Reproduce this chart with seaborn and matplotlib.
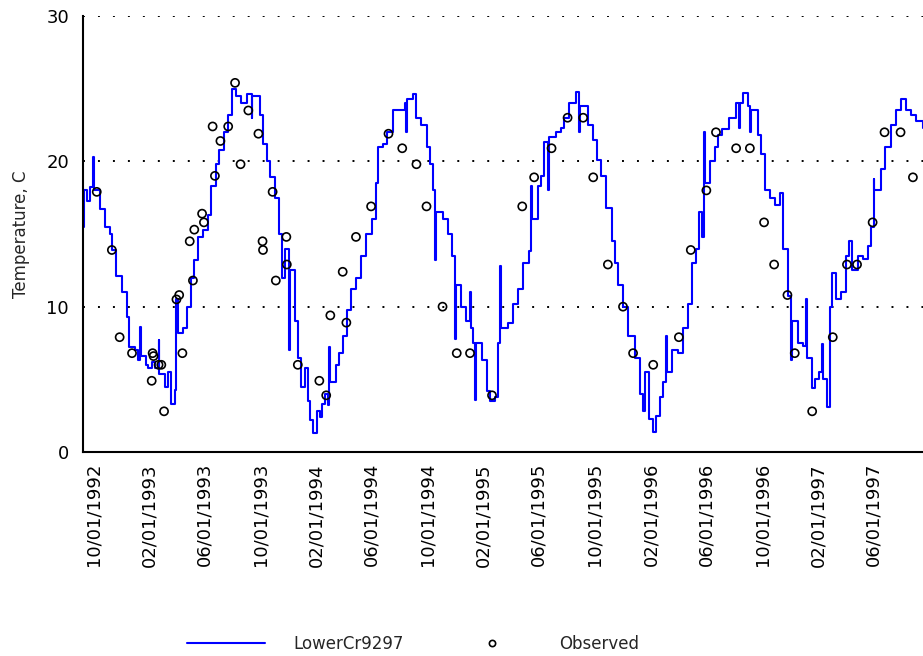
import matplotlib
matplotlib.use("Agg")
import matplotlib.pyplot as plt
import matplotlib.dates as mdates
from matplotlib.lines import Line2D
from matplotlib.ticker import MultipleLocator
import pandas as pd
import seaborn as sns

# Simulated daily water temperature (LowerCr9297), sampled where it changes
sim_dates = [
    "1992-09-10", "1992-09-12", "1992-09-17", "1992-09-24", "1992-10-01", "1992-10-03",
    "1992-10-16", "1992-10-27", "1992-11-08", "1992-11-11", "1992-11-21", "1992-12-03",
    "1992-12-14", "1992-12-19",
    "1993-01-01", "1993-01-06", "1993-01-12", "1993-01-14", "1993-01-24", "1993-01-30",
    "1993-02-07", "1993-02-14", "1993-02-21", "1993-02-23", "1993-03-06", "1993-03-13",
    "1993-03-20", "1993-03-28", "1993-04-01", "1993-04-05", "1993-04-15", "1993-04-23",
    "1993-05-03", "1993-05-10", "1993-05-17", "1993-05-28", "1993-06-09", "1993-06-16",
    "1993-06-27", "1993-07-04", "1993-07-13", "1993-07-22", "1993-08-01", "1993-08-10",
    "1993-08-21", "1993-09-01", "1993-09-12", "1993-09-14", "1993-09-30", "1993-10-07",
    "1993-10-15", "1993-10-22", "1993-11-03", "1993-11-12", "1993-11-17", "1993-11-24",
    "1993-12-03", "1993-12-05", "1993-12-15", "1993-12-22", "1993-12-30",
    "1994-01-07", "1994-01-14", "1994-01-18", "1994-01-25", "1994-02-01", "1994-02-08",
    "1994-02-13", "1994-02-20", "1994-02-25", "1994-03-01", "1994-03-03", "1994-03-15",
    "1994-03-22", "1994-03-30", "1994-04-08", "1994-04-18", "1994-04-28", "1994-05-09",
    "1994-05-20", "1994-06-03", "1994-06-10", "1994-06-15", "1994-06-25", "1994-07-04",
    "1994-07-17", "1994-08-01", "1994-08-12", "1994-08-15", "1994-08-17", "1994-08-30",
    "1994-09-07", "1994-09-18", "1994-09-29", "1994-10-06", "1994-10-13", "1994-10-17",
    "1994-10-19", "1994-11-05", "1994-11-16", "1994-11-24", "1994-11-30", "1994-12-02",
    "1994-12-14", "1994-12-24",
    "1995-01-02", "1995-01-04", "1995-01-08", "1995-01-13", "1995-01-15", "1995-01-28",
    "1995-02-07", "1995-02-15", "1995-02-26", "1995-03-03", "1995-03-08", "1995-03-10",
    "1995-03-25", "1995-04-05", "1995-04-16", "1995-04-27", "1995-05-10", "1995-05-15",
    "1995-05-17", "1995-05-30", "1995-06-06", "1995-06-13", "1995-06-22", "1995-06-24",
    "1995-07-09", "1995-07-20", "1995-07-27", "1995-08-07", "1995-08-22", "1995-08-29",
    "1995-08-31", "1995-09-16", "1995-09-27", "1995-10-06", "1995-10-15", "1995-10-26",
    "1995-11-07", "1995-11-14", "1995-11-21", "1995-12-02", "1995-12-13", "1995-12-28",
    "1996-01-08", "1996-01-14", "1996-01-20", "1996-01-28", "1996-02-06", "1996-02-12",
    "1996-02-21", "1996-02-28", "1996-03-05", "1996-03-07", "1996-03-19", "1996-03-31",
    "1996-04-11", "1996-04-22", "1996-05-01", "1996-05-10", "1996-05-17", "1996-05-23",
    "1996-05-26", "1996-05-28", "1996-06-08", "1996-06-19", "1996-06-26", "1996-07-06",
    "1996-07-21", "1996-08-05", "1996-08-12", "1996-08-14", "1996-08-21", "1996-08-31",
    "1996-09-04", "1996-09-06", "1996-09-22", "1996-09-29", "1996-10-06", "1996-10-17",
    "1996-10-28", "1996-11-08", "1996-11-15", "1996-11-26", "1996-12-03", "1996-12-05",
    "1996-12-18", "1996-12-29",
    "1997-01-04", "1997-01-06", "1997-01-17", "1997-01-24", "1997-02-01", "1997-02-08",
    "1997-02-10", "1997-02-19", "1997-02-25", "1997-03-02", "1997-03-11", "1997-03-22",
    "1997-04-02", "1997-04-09", "1997-04-16", "1997-04-27", "1997-05-08", "1997-05-19",
    "1997-05-26", "1997-06-01", "1997-06-03", "1997-06-18", "1997-06-27", "1997-07-09",
    "1997-07-20", "1997-07-31", "1997-08-11", "1997-08-22", "1997-09-02", "1997-09-17",
]
sim_temps = [
    15.5, 18.0, 17.3, 18.2, 20.3, 18.0,
    16.7, 15.5, 15.0, 13.9, 12.1, 11.0,
    9.3, 7.2,
    7.0, 6.3, 8.6, 6.6, 6.0, 5.8,
    6.2, 5.8, 7.7, 5.4, 4.5, 5.5,
    3.3, 4.3, 10.5, 8.2, 8.5, 10.0,
    12.0, 13.2, 14.8, 15.3, 16.3, 18.3,
    19.8, 20.8, 22.0, 23.2, 25.0, 24.5,
    24.0, 24.6, 23.0, 24.5, 23.2, 21.2,
    20.0, 18.9, 17.5, 15.0, 12.0, 14.0,
    7.0, 12.5, 9.0, 6.5, 4.5,
    5.8, 3.5, 2.2, 1.3, 2.8, 2.4,
    3.3, 4.0, 3.2, 7.2, 4.8, 6.0,
    6.8, 8.0, 9.8, 11.2, 12.0, 13.5,
    15.0, 16.0, 18.5, 21.0, 21.2, 22.0,
    23.5, 23.5, 24.0, 22.0, 24.3, 24.6,
    23.0, 22.5, 21.0, 19.8, 18.0, 13.2,
    16.5, 16.0, 15.0, 13.5, 7.8, 11.5,
    10.0, 9.0,
    11.0, 8.5, 7.5, 3.6, 7.5, 6.3,
    4.2, 3.5, 3.8, 7.5, 12.8, 8.5,
    8.9, 10.2, 11.2, 13.0, 13.8, 18.3,
    16.0, 18.3, 19.0, 21.3, 18.0, 21.7,
    22.0, 22.3, 23.0, 24.0, 24.8, 22.0,
    23.8, 22.5, 21.5, 20.1, 19.0, 16.8,
    14.5, 13.0, 11.5, 10.0, 8.0, 6.5,
    4.0, 2.8, 5.5, 2.3, 1.4, 2.5,
    3.8, 4.8, 8.0, 5.5, 7.0, 6.8,
    8.5, 10.2, 13.0, 14.0, 16.5, 14.8,
    22.0, 18.5, 20.0, 21.0, 21.8, 22.2,
    23.0, 24.0, 22.3, 24.0, 24.7, 23.8,
    22.0, 23.5, 21.8, 20.5, 18.0, 17.5,
    17.0, 17.8, 14.0, 10.7, 6.3, 9.0,
    7.5, 7.3,
    10.5, 6.5, 4.4, 5.0, 5.5, 7.4,
    5.0, 3.1, 10.0, 12.3, 10.5, 11.0,
    13.5, 14.5, 12.5, 13.5, 13.3, 14.2,
    15.5, 18.8, 18.0, 19.5, 21.0, 22.5,
    23.5, 24.3, 23.5, 23.2, 22.8, 22.3,
]

# Field observations
obs_dates = [
    "1992-10-09", "1992-11-11", "1992-11-28", "1992-12-25",
    "1993-02-06", "1993-02-08", "1993-02-10", "1993-02-21", "1993-02-27", "1993-03-05",
    "1993-04-01", "1993-04-07", "1993-04-14", "1993-04-30", "1993-05-07", "1993-05-10",
    "1993-05-27", "1993-05-31", "1993-06-19", "1993-06-24", "1993-07-06", "1993-07-23",
    "1993-08-07", "1993-08-19", "1993-09-05", "1993-09-27", "1993-10-06", "1993-10-07",
    "1993-10-28", "1993-11-04", "1993-11-27", "1993-11-28", "1993-12-22",
    "1994-02-07", "1994-02-22", "1994-03-03", "1994-03-30", "1994-04-07", "1994-04-28",
    "1994-05-31", "1994-07-08", "1994-08-07", "1994-09-07", "1994-09-29", "1994-11-03",
    "1994-12-04",
    "1995-01-02", "1995-02-19", "1995-04-26", "1995-05-22", "1995-06-29", "1995-08-03",
    "1995-09-06", "1995-09-28", "1995-10-30", "1995-12-02", "1995-12-24",
    "1996-02-06", "1996-04-02", "1996-04-28", "1996-06-01", "1996-06-22", "1996-08-05",
    "1996-09-04", "1996-10-05", "1996-10-27", "1996-11-25", "1996-12-11",
    "1997-01-18", "1997-03-04", "1997-04-04", "1997-04-26", "1997-05-30", "1997-06-25",
    "1997-07-30", "1997-08-26",
]
obs_temps = [
    17.9, 13.9, 7.9, 6.8,
    4.9, 6.8, 6.6, 6.0, 6.0, 2.8,
    10.5, 10.8, 6.8, 14.5, 11.8, 15.3,
    16.4, 15.8, 22.4, 19.0, 21.4, 22.4,
    25.4, 19.8, 23.5, 21.9, 14.5, 13.9,
    17.9, 11.8, 14.8, 12.9, 6.0,
    4.9, 3.9, 9.4, 12.4, 8.9, 14.8,
    16.9, 21.9, 20.9, 19.8, 16.9, 10.0,
    6.8,
    6.8, 3.9, 16.9, 18.9, 20.9, 23.0,
    23.0, 18.9, 12.9, 10.0, 6.8,
    6.0, 7.9, 13.9, 18.0, 22.0, 20.9,
    20.9, 15.8, 12.9, 10.8, 6.8,
    2.8, 7.9, 12.9, 12.9, 15.8, 22.0,
    22.0, 18.9,
]

series_labels = ["LowerCr9297", "Observed"]
y_title = "Temperature, C"

sns.set_style("white")
plt.rcParams["font.family"] = ["DejaVu Sans"]

sim = pd.DataFrame({"date": pd.to_datetime(sim_dates), "temp": sim_temps})
obs = pd.DataFrame({"date": pd.to_datetime(obs_dates), "temp": obs_temps})

fig = plt.figure(figsize=(9.23, 6.56), dpi=100)
ax = fig.add_axes([83 / 923, 1 - 452 / 656, 840 / 923, 436 / 656])

# daily model output is a held value per day, so draw it as a staircase
sns.lineplot(data=sim, x="date", y="temp", ax=ax, color="#0000ff",
             linewidth=1.5, drawstyle="steps-post", estimator=None, zorder=2)
sns.scatterplot(data=obs, x="date", y="temp", ax=ax, marker="o", s=34,
                facecolors="none", edgecolor="black", linewidth=1.2, zorder=3)

ax.set_xlim(pd.Timestamp("1992-09-09"), pd.Timestamp("1997-09-17"))
ax.set_ylim(0, 30)
ax.yaxis.set_major_locator(MultipleLocator(10))
ax.yaxis.set_minor_locator(MultipleLocator(5))
ax.xaxis.set_major_locator(mdates.MonthLocator(bymonth=[2, 6, 10]))
ax.xaxis.set_minor_locator(mdates.MonthLocator(bymonth=[4, 8, 12]))
ax.xaxis.set_major_formatter(mdates.DateFormatter("%m/%d/%Y"))

ax.grid(False)
ax.grid(axis="y", which="major", color="black", linestyle=(0, (1, 6.7)), linewidth=1.4)

for side in ["top", "right"]:
    ax.spines[side].set_visible(False)
for side in ["left", "bottom"]:
    ax.spines[side].set_color("black")
    ax.spines[side].set_linewidth(1.5)

ax.tick_params(axis="both", which="both", direction="inout", length=8,
               width=1.4, color="black", labelcolor="black", labelsize=13)
ax.tick_params(axis="y", which="both", pad=6)
ax.tick_params(axis="x", which="both", pad=4, labelrotation=90)

ax.set_xlabel("")
ax.set_ylabel(y_title, fontsize=12, labelpad=12)

handles = [
    Line2D([], [], color="#0000ff", linewidth=1.5),
    Line2D([], [], linestyle="none", marker="o", markersize=4.5,
           markerfacecolor="none", markeredgecolor="black", markeredgewidth=1.2),
]
fig.legend(handles, series_labels, loc="center", bbox_to_anchor=(413 / 923, 12 / 656),
           ncol=2, frameon=False, fontsize=12, handlelength=4.7,
           handletextpad=1.7, columnspacing=2.9)

fig.savefig("out.png", dpi=100)
